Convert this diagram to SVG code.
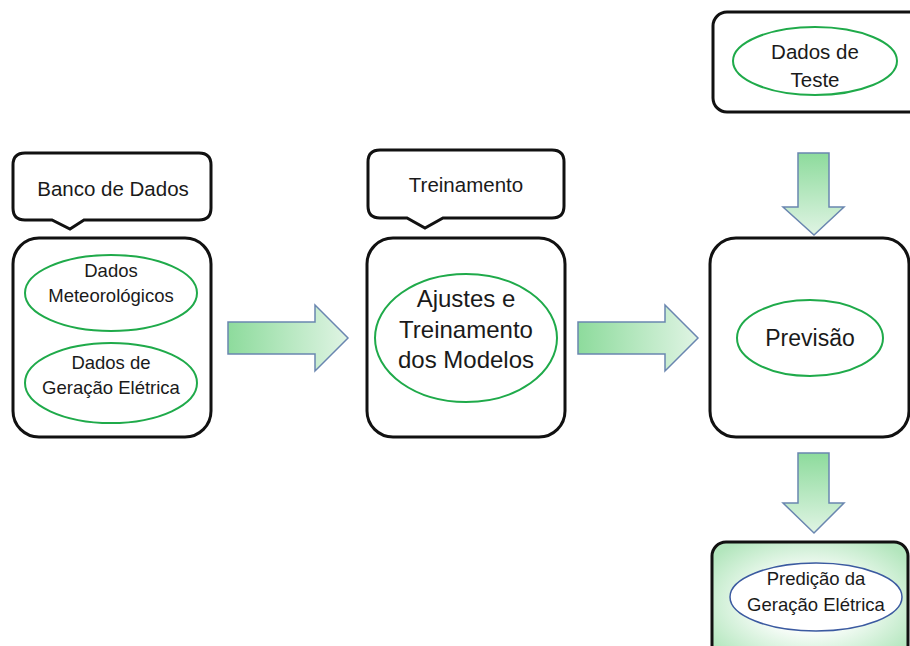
<svg xmlns="http://www.w3.org/2000/svg" width="910" height="646" viewBox="0 0 910 646">
<defs>
<linearGradient id="gh" x1="0" y1="0" x2="1" y2="0">
<stop offset="0" stop-color="#8ddb9c"/>
<stop offset="1" stop-color="#e0f4e4"/>
</linearGradient>
<linearGradient id="gv" x1="0" y1="0" x2="0" y2="1">
<stop offset="0" stop-color="#8ddb9c"/>
<stop offset="1" stop-color="#e0f4e4"/>
</linearGradient>
<radialGradient id="gr" cx="0.5" cy="0.5" r="0.62">
<stop offset="0.35" stop-color="#ffffff"/>
<stop offset="1" stop-color="#b3e6bd"/>
</radialGradient>
<style>
.box{fill:#fff;stroke:#111;stroke-width:3}
.ell{fill:none;stroke:#1faa4a;stroke-width:2}
.arr{stroke:#6a86b0;stroke-width:1.5}
text{font-family:"Liberation Sans",Arial,sans-serif;fill:#1a1a1a;text-anchor:middle}
.s{font-size:18.5px}
.m{font-size:20.5px}
.l{font-size:24px}
.p{font-size:23px}
</style>
</defs>
<g id="connectors">
<path class="arr" fill="url(#gh)" d="M228,322 H315 V305 L348,338 L315,371 V354 H228 Z"/>
<path class="arr" fill="url(#gh)" d="M578,322 H665 V305 L698,338 L665,371 V354 H578 Z"/>
<path class="arr" fill="url(#gv)" d="M798,153 H829 V207 H844 L814,235 L783,207 H798 Z"/>
<path class="arr" fill="url(#gv)" d="M798,453 H829 V503 H844 L814,533 L783,503 H798 Z"/>
</g>
<g id="callout-banco">
<path class="box" d="M25,153 H199 Q211,153 211,165 V208 Q211,220 199,220 H84 L70,229 L52,220 H25 Q13,220 13,208 V165 Q13,153 25,153 Z"/>
<text class="m" x="113" y="196">Banco de Dados</text>
</g>
<g id="banco">
<rect class="box" x="13" y="238" width="198" height="199" rx="26"/>
<ellipse class="ell" cx="111" cy="293" rx="86" ry="38"/>
<text class="s" x="111" y="277">Dados</text>
<text class="s" x="111" y="302">Meteorológicos</text>
<ellipse class="ell" cx="111" cy="383" rx="86" ry="40"/>
<text class="s" x="111" y="369">Dados de</text>
<text class="s" x="111" y="394">Geração Elétrica</text>
</g>
<g id="callout-treinamento">
<path class="box" d="M380,150 H552 Q564,150 564,162 V206 Q564,218 552,218 H443 L425,228 L407,218 H380 Q368,218 368,206 V162 Q368,150 380,150 Z"/>
<text class="m" x="466" y="192">Treinamento</text>
</g>
<g id="treinamento">
<rect class="box" x="367" y="238" width="198" height="199" rx="26"/>
<ellipse class="ell" cx="466" cy="338" rx="91" ry="64"/>
<text class="l" x="466" y="307">Ajustes e</text>
<text class="l" x="466" y="338">Treinamento</text>
<text class="l" x="466" y="368">dos Modelos</text>
</g>
<g id="teste">
<rect class="box" x="713" y="12" width="210" height="100" rx="14"/>
<ellipse class="ell" cx="815" cy="61" rx="82" ry="34"/>
<text class="m" x="815" y="59">Dados de</text>
<text class="m" x="815" y="87">Teste</text>
</g>
<g id="previsao">
<rect class="box" x="710" y="238" width="199" height="199" rx="26"/>
<ellipse class="ell" cx="810" cy="338" rx="73" ry="38"/>
<text class="p" x="810" y="346">Previsão</text>
</g>
<g id="predicao">
<rect x="712" y="542" width="196" height="120" rx="14" fill="url(#gr)" stroke="#111" stroke-width="3"/>
<ellipse cx="816" cy="597" rx="86" ry="34" fill="#fff" stroke="#3b5aa0" stroke-width="1.5"/>
<text class="s" x="816" y="585">Predição da</text>
<text class="s" x="816" y="611">Geração Elétrica</text>
</g>
</svg>
